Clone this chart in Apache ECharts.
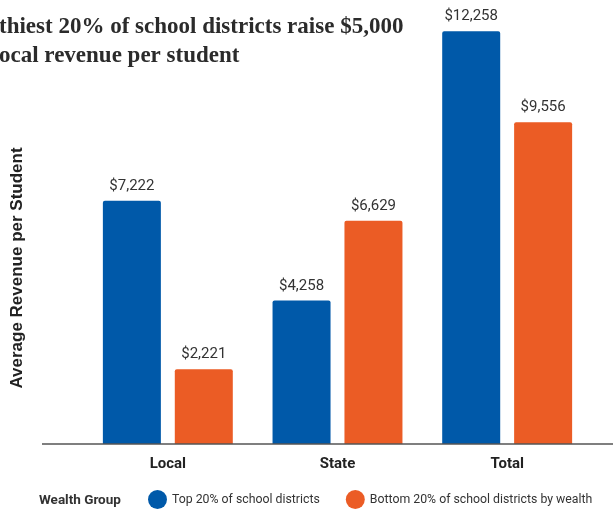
<!DOCTYPE html>
<html>
<head>
<meta charset="utf-8">
<script src="https://cdn.jsdelivr.net/npm/echarts@6/dist/echarts.min.js"></script>
<style>
  html, body { margin: 0; padding: 0; background: #fff; }
  #chart { width: 613px; height: 510px; }
</style>
</head>
<body>
<div id="chart"></div>
<script>
// Revenue sources per student, by district wealth group
const categories = ['Local', 'State', 'Total'];
const topGroupName = 'Top 20% of school districts';
const bottomGroupName = 'Bottom 20% of school districts by wealth';
const topValues = [7222, 4258, 12258];
const bottomValues = [2221, 6629, 9556];

const titleLines = ['thiest 20% of school districts raise $5,000', 'ocal revenue per student'];
const yAxisTitle = 'Average Revenue per Student';
const legendTitle = 'Wealth Group';

const BLUE = '#0059A9';
const ORANGE = '#EB5C25';

const chart = echarts.init(document.getElementById('chart'), null, { renderer: 'canvas' });

const money = v => '$' + v.toLocaleString('en-US');

const labelStyle = {
  show: true,
  position: 'top',
  distance: 7,
  fontFamily: 'Roboto',
  fontSize: 15,
  color: '#333',
  formatter: p => money(p.value)
};

chart.setOption({
  animation: false,
  grid: { left: 83, right: 21, top: 23, bottom: 66 },
  xAxis: {
    type: 'category',
    data: categories,
    axisLine: { show: false },
    axisTick: { show: false },
    axisLabel: {
      fontFamily: 'Roboto',
      fontWeight: 'bold',
      fontSize: 15,
      color: '#222',
      margin: 13
    }
  },
  yAxis: {
    type: 'value',
    min: 0,
    max: 12500,
    show: false
  },
  legend: {
    left: 148,
    top: 490,
    padding: 0,
    icon: 'circle',
    itemWidth: 19,
    itemHeight: 19,
    itemGap: 26,
    textStyle: { fontFamily: 'Roboto', fontSize: 12.3, color: '#333' },
    data: [topGroupName, bottomGroupName]
  },
  series: [
    {
      name: topGroupName,
      type: 'bar',
      data: topValues,
      barWidth: 58,
      barGap: '24%',
      itemStyle: { color: BLUE, borderRadius: [2, 2, 0, 0] },
      label: labelStyle
    },
    {
      name: bottomGroupName,
      type: 'bar',
      data: bottomValues,
      barWidth: 58,
      itemStyle: { color: ORANGE, borderRadius: [2, 2, 0, 0] },
      label: labelStyle
    }
  ]
});

// Baseline, title block, axis title and legend caption
const baseY = chart.convertToPixel({ yAxisIndex: 0 }, 0);
chart.setOption({
  graphic: [
    {
      type: 'line',
      shape: { x1: 42, y1: baseY, x2: 613, y2: baseY },
      style: { stroke: '#555', lineWidth: 1.5 },
      z: 10
    },
    {
      type: 'text',
      left: -1,
      top: 13,
      style: {
        text: titleLines.join('\n'),
        font: 'bold 23px "Liberation Serif", serif',
        fill: '#2b2b2b',
        lineHeight: 29
      }
    },
    {
      type: 'text',
      x: 17,
      y: 268,
      rotation: Math.PI / 2,
      style: {
        text: yAxisTitle,
        font: 'bold 17px "Liberation Sans", Arial, sans-serif',
        fill: '#222',
        align: 'center',
        verticalAlign: 'middle'
      }
    },
    {
      type: 'text',
      left: 39,
      top: 494,
      style: {
        text: legendTitle,
        font: 'bold 13.5px Roboto, sans-serif',
        fill: '#333'
      }
    }
  ]
});
</script>
</body>
</html>
